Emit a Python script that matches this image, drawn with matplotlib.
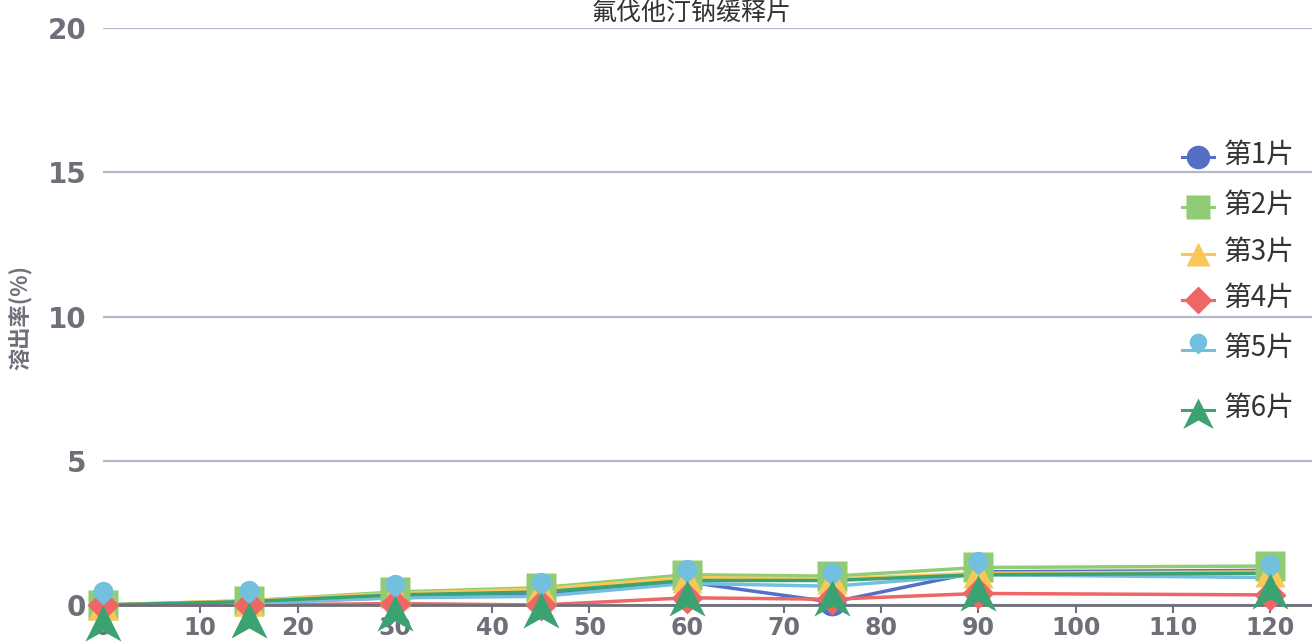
import numpy as np
import matplotlib
matplotlib.use("Agg")
import matplotlib.pyplot as plt
from matplotlib.path import Path
from matplotlib.lines import Line2D

plt.rcParams['font.family'] = ['Noto Sans CJK SC', 'DejaVu Sans']

# data
times = [0, 15, 30, 45, 60, 75, 90, 120]
labels = ["第1片", "第2片", "第3片", "第4片", "第5片", "第6片"]
s1 = [0, 0.10, 0.25, 0.35, 0.80, 0.10, 1.15, 1.20]
s2 = [0, 0.15, 0.45, 0.60, 1.05, 1.00, 1.30, 1.35]
s3 = [0, 0.15, 0.40, 0.55, 0.95, 0.90, 1.10, 1.15]
s4 = [0, 0.00, 0.05, 0.00, 0.25, 0.20, 0.40, 0.35]
s5 = [0, 0.05, 0.25, 0.30, 0.75, 0.65, 1.05, 0.95]
s6 = [0, 0.12, 0.35, 0.45, 0.85, 0.85, 1.05, 1.10]
series = [s1, s2, s3, s4, s5, s6]
yticks = [0, 5, 10, 15, 20]
xticks = list(range(0, 121, 10))

colors = ["#5470c6", "#91cc75", "#fac858", "#ee6666", "#73c0de", "#3ba272"]
axis_col = "#6E7079"
grid_col = "#b4b8c8"

# marker shapes: pin (tip at the point) and arrow (tip at the point, body below)
ang = np.linspace(np.radians(-50), np.radians(230), 30)
r, cy = 0.42, 0.58
pin_v = [(0, 0)] + [(r * np.cos(a), cy + r * np.sin(a)) for a in ang] + [(0, 0)]
pin = Path(pin_v, closed=True)
arrow = Path([(0, 0), (0.5, -1.0), (0, -0.72), (-0.5, -1.0), (0, 0)], closed=True)

markers = ["o", "s", "^", "D", pin, arrow]
msizes = [20, 21, 21, 16, 34, 52]

fig = plt.figure(figsize=(13.12, 6.44), dpi=100)
ax = fig.add_axes([103 / 1312, 39 / 644, 1 - 103 / 1312, 577 / 644])

for i, s in enumerate(series):
    ax.plot(times, s, color=colors[i], lw=2.5, zorder=2 + i * 0.01, clip_on=False)
for i, s in enumerate(series):
    ax.plot(times, s, ls="none", marker=markers[i], ms=msizes[i], color=colors[i],
            mec="none", zorder=5 + i, clip_on=False)

ax.set_xlim(0, 124.3)
ax.set_ylim(0, 20)
ax.set_xticks(xticks)
ax.set_yticks(yticks)
ax.yaxis.grid(True, color=grid_col, lw=1.6)
ax.set_axisbelow(True)
for side in ["top", "right", "left"]:
    ax.spines[side].set_visible(False)
ax.spines["bottom"].set_color(axis_col)
ax.spines["bottom"].set_linewidth(2)
ax.tick_params(axis="x", length=6, width=1.5, color=axis_col, pad=2,
               labelsize=17, labelcolor=axis_col)
ax.tick_params(axis="y", length=0, pad=12, labelsize=20, labelcolor=axis_col)
for t in ax.get_xticklabels() + ax.get_yticklabels():
    t.set_fontweight("bold")
    t.set_family(["DejaVu Sans"])

# title (at top edge) and y label
fig.text(692 / 1312, 1.0, "氟伐他汀钠缓释片", ha="center", va="top",
         fontsize=18, color="#333333")
fig.text(20 / 1312, 1 - 318 / 644, "溶出率(%)", rotation=90, ha="center",
         va="center", fontsize=16, fontweight="bold", color=axis_col)

# legend drawn by hand to match spacing
leg_y = [157, 207, 254, 300, 350, 410]
leg_ms = [17, 17, 17, 14, 30, 44]
for i, lab in enumerate(labels):
    yy = 1 - leg_y[i] / 644
    fig.add_artist(Line2D([1182 / 1312, 1214 / 1312], [yy, yy], color=colors[i],
                          lw=2.2, transform=fig.transFigure))
    my = yy
    if i == 4:
        my = 1 - (leg_y[i] + 4) / 644
    if i == 5:
        my = 1 - (leg_y[i] - 12) / 644
    fig.add_artist(Line2D([1198 / 1312], [my], marker=markers[i], ms=leg_ms[i],
                          color=colors[i], mec="none", ls="none",
                          transform=fig.transFigure))
    fig.text(1224 / 1312, 1 - (leg_y[i] - 2) / 644, lab, ha="left", va="center",
             fontsize=20, fontweight="medium", color="#333333")

fig.savefig("out.png", dpi=100)
